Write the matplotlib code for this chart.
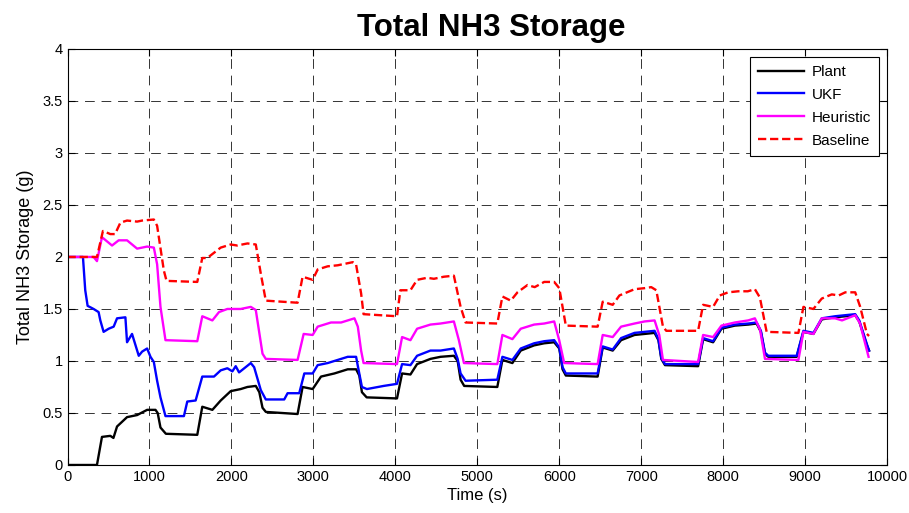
import matplotlib.pyplot as plt
import numpy as np

plt.rcParams['font.family'] = ['Liberation Sans', 'DejaVu Sans']

# time (s) and total NH3 storage (g) for each estimator
t_plant = [0, 359, 420, 522, 560, 604, 726, 849, 971, 1073, 1100, 1134, 1200, 1583, 1644, 1767, 1869, 1991, 2113, 2195, 2297, 2340,
           2379, 2420, 2807, 2868, 2991, 3093, 3256, 3419, 3521, 3560, 3592, 3650, 4020, 4082, 4184, 4265, 4428, 4551, 4714,
           4760, 4796, 4840, 5244, 5306, 5428, 5530, 5693, 5816, 5938, 6000, 6040, 6080, 6468, 6530, 6652, 6754, 6918, 7041,
           7163, 7210, 7245, 7290, 7694, 7755, 7877, 7979, 8142, 8306, 8408, 8460, 8510, 8550, 8897, 8979, 9101, 9203, 9366,
           9611, 9660, 9754, 9780]
plant = [0, 0, 0.27, 0.28, 0.26, 0.37, 0.46, 0.48, 0.53, 0.53, 0.50, 0.36, 0.30, 0.29, 0.56, 0.53, 0.62, 0.71, 0.73, 0.75, 0.76, 0.70,
         0.55, 0.51, 0.49, 0.75, 0.73, 0.85, 0.88, 0.92, 0.92, 0.86, 0.70, 0.65, 0.64, 0.88, 0.87, 0.97, 1.02, 1.04, 1.05,
         1.00, 0.82, 0.76, 0.75, 1.01, 0.98, 1.10, 1.15, 1.17, 1.18, 1.12, 0.92, 0.86, 0.85, 1.13, 1.10, 1.20, 1.25, 1.26,
         1.27, 1.20, 1.02, 0.96, 0.95, 1.21, 1.18, 1.31, 1.34, 1.35, 1.36, 1.28, 1.07, 1.04, 1.04, 1.28, 1.26, 1.40, 1.42,
         1.44, 1.38, 1.15, 1.10]

t_ukf = [0, 188, 216, 245, 318, 379, 400, 440, 502, 563, 604, 706, 726, 787, 869, 910, 971, 1012, 1053, 1093, 1134, 1195, 1420,
         1461, 1563, 1644, 1787, 1869, 1950, 2011, 2052, 2093, 2236, 2277, 2358, 2419, 2644, 2685, 2827, 2889, 2991, 3052,
         3174, 3297, 3419, 3521, 3540, 3592, 3653, 3857, 4020, 4082, 4184, 4265, 4428, 4551, 4714, 4760, 4796, 4857, 5244,
         5306, 5428, 5530, 5693, 5816, 5938, 6000, 6040, 6080, 6468, 6530, 6652, 6754, 6918, 7041, 7163, 7210, 7245, 7290,
         7694, 7755, 7877, 7979, 8142, 8306, 8408, 8460, 8510, 8550, 8897, 8979, 9101, 9203, 9366, 9611, 9660, 9754, 9780]
ukf = [2.0, 2.0, 1.68, 1.53, 1.50, 1.47, 1.39, 1.28, 1.31, 1.33, 1.41, 1.42, 1.18, 1.26, 1.05, 1.09, 1.12, 1.04, 0.99, 0.81,
       0.65, 0.47, 0.47, 0.61, 0.62, 0.85, 0.85, 0.91, 0.93, 0.90, 0.95, 0.89, 0.98, 0.94, 0.72, 0.63, 0.63, 0.69, 0.69,
       0.88, 0.88, 0.96, 0.98, 1.01, 1.04, 1.04, 0.96, 0.75, 0.73, 0.76, 0.78, 0.97, 0.96, 1.05, 1.10, 1.10, 1.12, 1.02,
       0.88, 0.81, 0.82, 1.04, 1.01, 1.12, 1.17, 1.19, 1.20, 1.13, 0.94, 0.88, 0.88, 1.14, 1.11, 1.22, 1.27, 1.28, 1.29,
       1.21, 1.03, 0.97, 0.97, 1.22, 1.19, 1.32, 1.35, 1.36, 1.37, 1.29, 1.08, 1.05, 1.05, 1.29, 1.27, 1.41, 1.43, 1.45,
       1.39, 1.16, 1.10]

t_heur = [0, 318, 359, 420, 543, 624, 726, 849, 971, 1053, 1093, 1134, 1195, 1583, 1644, 1767, 1848, 1950, 2113, 2236, 2297,
          2379, 2419, 2807, 2881, 2991, 3052, 3215, 3338, 3501, 3542, 3582, 3612, 4020, 4082, 4184, 4265, 4428, 4551, 4714,
          4775, 4837, 5244, 5306, 5428, 5530, 5693, 5816, 5938, 5999, 6060, 6468, 6530, 6652, 6754, 6918, 7041, 7163, 7220,
          7265, 7694, 7755, 7877, 7979, 8142, 8306, 8387, 8450, 8510, 8918, 8979, 9101, 9203, 9366, 9450, 9611, 9670, 9774]
heur = [2.0, 2.0, 1.96, 2.19, 2.11, 2.16, 2.16, 2.08, 2.10, 2.09, 1.93, 1.52, 1.20, 1.19, 1.43, 1.39, 1.47, 1.50, 1.50, 1.52,
        1.49, 1.07, 1.02, 1.01, 1.26, 1.25, 1.33, 1.37, 1.37, 1.41, 1.33, 1.10, 0.98, 0.97, 1.23, 1.20, 1.31, 1.35, 1.36,
        1.38, 1.20, 0.98, 0.97, 1.25, 1.21, 1.31, 1.35, 1.36, 1.38, 1.20, 0.98, 0.97, 1.25, 1.23, 1.33, 1.36, 1.38, 1.39,
        1.25, 1.01, 0.99, 1.25, 1.23, 1.34, 1.37, 1.39, 1.41, 1.30, 1.02, 1.01, 1.28, 1.26, 1.41, 1.41, 1.39, 1.44, 1.36,
        1.04]

t_base = [0, 359, 432, 522, 580, 645, 726, 849, 910, 1053, 1093, 1175, 1208, 1583, 1644, 1705, 1787, 1869, 1991, 2070, 2195,
          2297, 2358, 2419, 2807, 2868, 2991, 3052, 3174, 3297, 3481, 3520, 3582, 3612, 4020, 4061, 4184, 4265, 4388, 4470,
          4592, 4714, 4796, 4857, 5244, 5306, 5408, 5490, 5612, 5700, 5816, 5938, 6000, 6080, 6468, 6530, 6652, 6734, 6918,
          7041, 7122, 7184, 7265, 7306, 7694, 7755, 7877, 7959, 8061, 8183, 8300, 8387, 8448, 8530, 8918, 8979, 9101, 9203,
          9325, 9410, 9490, 9611, 9672, 9754, 9780]
base = [2.0, 2.0, 2.25, 2.22, 2.22, 2.33, 2.35, 2.34, 2.35, 2.36, 2.30, 1.87, 1.77, 1.76, 1.99, 1.99, 2.04, 2.09, 2.12, 2.11,
        2.13, 2.12, 1.84, 1.58, 1.56, 1.81, 1.78, 1.88, 1.91, 1.92, 1.95, 1.93, 1.65, 1.45, 1.43, 1.68, 1.68, 1.78, 1.80,
        1.79, 1.81, 1.82, 1.52, 1.37, 1.36, 1.62, 1.58, 1.66, 1.73, 1.71, 1.76, 1.76, 1.70, 1.34, 1.33, 1.57, 1.54, 1.63,
        1.69, 1.70, 1.71, 1.68, 1.33, 1.29, 1.29, 1.54, 1.52, 1.63, 1.66, 1.67, 1.67, 1.69, 1.61, 1.28, 1.27, 1.52, 1.50,
        1.60, 1.64, 1.63, 1.66, 1.66, 1.52, 1.26, 1.24]

fig = plt.figure(figsize=(9.09, 5.13), dpi=100)
ax = fig.add_axes([0.0743, 0.0936, 0.9016, 0.811])

ax.plot(t_plant, plant, color="black", linewidth=1.7, label="Plant")
ax.plot(t_ukf, ukf, color="blue", linewidth=1.7, label="UKF")
ax.plot(t_heur, heur, color="magenta", linewidth=1.7, label="Heuristic")
ax.plot(t_base, base, color="red", linewidth=1.7, linestyle=(0, (3.5, 1.6)), label="Baseline")

ax.set_xlim(0, 10000)
ax.set_ylim(0, 4)
ax.set_xticks(np.arange(0, 10001, 1000))
ax.set_yticks(np.arange(0, 4.01, 0.5))
ax.set_yticklabels(["0", "0.5", "1", "1.5", "2", "2.5", "3", "3.5", "4"])
ax.tick_params(direction="in", top=True, right=True, labelsize=10.5, length=5)
ax.grid(True, color="black", linestyle=(0, (10, 7)), linewidth=0.7, alpha=0.8)

ax.set_title("Total NH3 Storage", fontsize=22.5, fontweight="bold", x=0.5165, pad=9)
ax.set_xlabel("Time (s)", fontsize=12, labelpad=3)
ax.set_ylabel("Total NH3 Storage (g)", fontsize=13, labelpad=6)

leg = ax.legend(loc="upper right", fontsize=11, fancybox=False, framealpha=1,
                edgecolor="black", borderaxespad=0.5, handlelength=3.0,
                handletextpad=0.5, labelspacing=0.58, borderpad=0.55)
leg.get_frame().set_linewidth(0.8)

fig.savefig("out.png", dpi=100)
